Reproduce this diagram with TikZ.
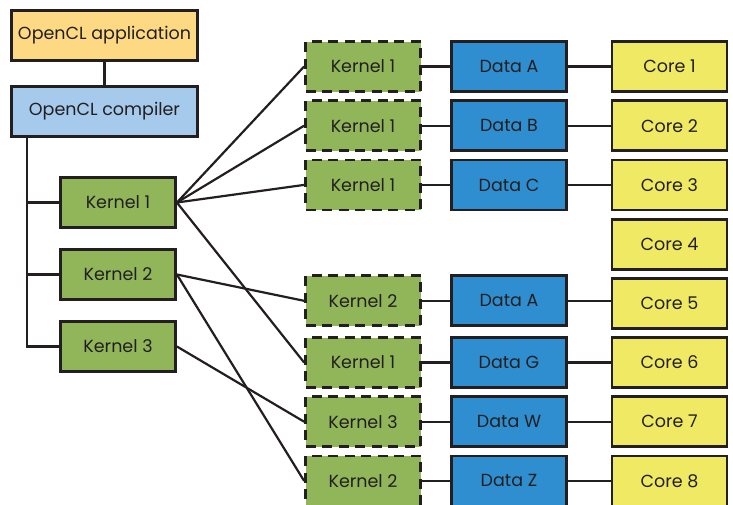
\documentclass[tikz,border=0pt]{standalone}
\usepackage{fontspec}
\setmainfont{Poppins}
\usepackage{tikz}
\usetikzlibrary{positioning}

\definecolor{appfill}{HTML}{FDD983}
\definecolor{compfill}{HTML}{A5CAEC}
\definecolor{kernfill}{HTML}{91B65A}
\definecolor{datafill}{HTML}{2F8ECF}
\definecolor{corefill}{HTML}{F0E964}
\definecolor{edgecol}{HTML}{231F20}

\tikzset{
  box/.style={draw=edgecol,line width=2.8pt,minimum height=50pt,
    font=\fontsize{17.5}{19}\selectfont,text=edgecol},
  app/.style={box,fill=appfill,minimum width=186pt},
  comp/.style={box,fill=compfill,minimum width=186pt},
  kern/.style={box,fill=kernfill,minimum width=115pt},
  dkern/.style={box,fill=kernfill,minimum width=115pt,
    dash pattern=on 10pt off 6.5pt},
  data/.style={box,fill=datafill,minimum width=115pt},
  core/.style={box,fill=corefill,minimum width=115pt},
  wire/.style={draw=edgecol,line width=2.2pt}
}

\begin{document}
\begin{tikzpicture}[x=1pt,y=-1pt,on grid,node distance=59.2pt and 160.5pt]
  \useasboundingbox (0,0) rectangle (733,504);
  % left side
  \node[app] (app) at (104.5,35.5) {OpenCL application};
  \node[comp] (comp) [below=76pt of app] {OpenCL compiler};
  \node[kern] (k1) at (118,202.5) {Kernel 1};
  \node[kern] (k2) [below=72pt of k1] {Kernel 2};
  \node[kern] (k3) [below=72pt of k2] {Kernel 3};
  \coordinate (bus) at ([xshift=17pt]comp.south west);

  % cores
  \node[core] (c1) at (669.5,66.5) {Core 1};
  \node[core] (c2) [below=of c1] {Core 2};
  \node[core] (c3) [below=of c2] {Core 3};
  \node[core] (c4) [below=of c3] {Core 4};
  \node[core] (c5) [below=of c4] {Core 5};
  \node[core] (c6) [below=of c5] {Core 6};
  \node[core] (c7) [below=of c6] {Core 7};
  \node[core] (c8) [below=of c7] {Core 8};

  % data
  \node[data] (d1) [left=of c1] {Data A};
  \node[data] (d2) [left=of c2] {Data B};
  \node[data] (d3) [left=of c3] {Data C};
  \node[data] (d5) [left=of c5,yshift=2.5pt] {Data A};
  \node[data] (d6) [left=of c6] {Data G};
  \node[data] (d7) [left=of c7] {Data W};
  \node[data] (d8) [left=of c8] {Data Z};

  % kernel instances
  \node[dkern] (r1) [left=146pt of d1] {Kernel 1};
  \node[dkern] (r2) [left=146pt of d2] {Kernel 1};
  \node[dkern] (r3) [left=146pt of d3] {Kernel 1};
  \node[dkern] (r5) [left=146pt of d5] {Kernel 2};
  \node[dkern] (r6) [left=146pt of d6] {Kernel 1};
  \node[dkern] (r7) [left=146pt of d7] {Kernel 3};
  \node[dkern] (r8) [left=146pt of d8] {Kernel 2};

  \path[wire]
  (app) edge (comp)
  (bus) edge [to path={|- (\tikztotarget)}] (k3.west)
  (bus |- k1) edge (k1.west)
  (bus |- k2) edge (k2.west)
  (k1.east)
  edge (r1.west)
  edge (r2.west)
  edge (r3.west)
  edge (r6.west)
  (k2.east)
  edge (r5.west)
  edge (r8.west)
  (k3.east)
  edge (r7.west)
  (r1) edge (d1)  (d1) edge (c1)
  (r2) edge (d2)  (d2) edge (c2)
  (r3) edge (d3)  (d3) edge (c3)
  (r5) edge (d5)  (d5) edge (c5.west |- d5)
  (r6) edge (d6)  (d6) edge (c6)
  (r7) edge (d7)  (d7) edge (c7)
  (r8) edge (d8)  (d8) edge (c8)
  ;
\end{tikzpicture}
\end{document}
